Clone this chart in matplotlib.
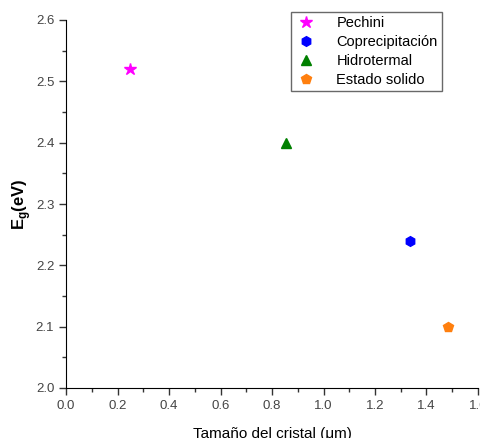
import matplotlib
matplotlib.use("Agg")
import matplotlib.pyplot as plt
from matplotlib.ticker import MultipleLocator

plt.rcParams['font.family'] = ['Liberation Sans', 'DejaVu Sans']

labels = ["Pechini", "Coprecipitación", "Hidrotermal", "Estado solido"]
x_vals = [0.25, 1.335, 0.855, 1.485]
y_vals = [2.52, 2.24, 2.40, 2.10]
markers = ["*", "h", "^", "p"]
colors = ["#ff00ff", "#0000ff", "#008000", "#ff7f0e"]
sizes = [9, 7, 7.5, 7.5]

fig = plt.figure(figsize=(4.81, 4.38), dpi=100)
ax = fig.add_axes([66/481, 50/438, 412/481, 368/438])

for lab, x, y, m, c, s in zip(labels, x_vals, y_vals, markers, colors, sizes):
    ax.plot([x], [y], linestyle='none', marker=m, color=c, markersize=s, label=lab)

ax.set_xlim(0, 1.6)
ax.set_ylim(2.0, 2.6)
ax.xaxis.set_major_locator(MultipleLocator(0.2))
ax.xaxis.set_minor_locator(MultipleLocator(0.1))
ax.yaxis.set_major_locator(MultipleLocator(0.1))
ax.yaxis.set_minor_locator(MultipleLocator(0.05))
ax.spines['top'].set_visible(False)
ax.spines['right'].set_visible(False)
ax.tick_params(which='major', direction='out', length=5, width=1, labelsize=9.5, colors='#333333', labelcolor='#444444')
ax.tick_params(which='minor', direction='out', length=3, width=1, colors='#333333')

ax.set_xlabel("Tamaño del cristal (μm)", fontsize=11, labelpad=11)
ax.set_ylabel(r"E$_\mathregular{g}$(eV)", fontsize=12, fontweight='bold', labelpad=2)

leg = ax.legend(loc='upper right', fontsize=10.5, frameon=True, fancybox=False, edgecolor='#444444',
                handletextpad=1.3, borderpad=0.3, labelspacing=0.33, handlelength=1.5,
                borderaxespad=0)
leg.get_frame().set_linewidth(1)
leg.set_bbox_to_anchor((442/481, 1 - 12/438), transform=fig.transFigure)

fig.savefig("out.png", dpi=100)
